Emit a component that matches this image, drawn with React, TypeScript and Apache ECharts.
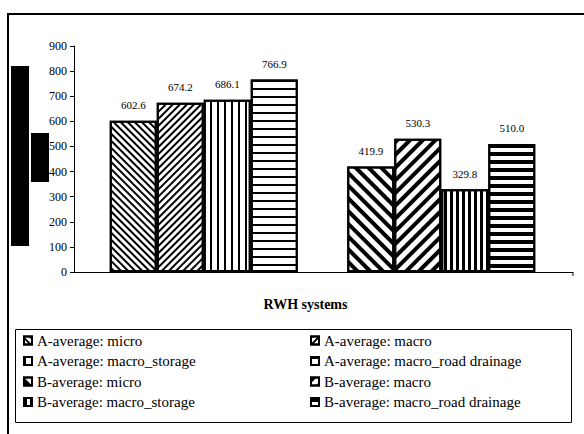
import React, { useEffect, useRef } from "react";
import * as echarts from "echarts";

// Site groups and the RWH system types compared in each group
const groups = ["A-average", "B-average"];
const systems = ["micro", "macro", "macro_storage", "macro_road drainage"];

// Mean values per system type for each group
const aValues = [602.6, 674.2, 686.1, 766.9];
const bValues = [419.9, 530.3, 329.8, 510.0];

// Value axis range
const yMin = 0;
const yMax = 900;
const yStep = 100;

const axisTitle = "RWH systems";

const serif = "Liberation Serif, Times New Roman, serif";

// Hatch fills: fine hatching for group A, bold hatching for group B
const diag = (line: number, gap: number, rot: number) => ({
  symbol: "rect",
  symbolSize: 1,
  color: "#000",
  dashArrayX: [1, 0],
  dashArrayY: [line, gap],
  rotation: rot,
});
const vert = (line: number, gap: number) => ({
  symbol: "rect",
  symbolSize: 1,
  color: "#000",
  dashArrayX: [line, gap],
  dashArrayY: [1, 0],
  rotation: 0,
});
const horiz = (line: number, gap: number) => ({
  symbol: "rect",
  symbolSize: 1,
  color: "#000",
  dashArrayX: [1, 0],
  dashArrayY: [line, gap],
  rotation: 0,
});

const hatches = [
  [diag(1.3, 2.2, Math.PI / 4), diag(1.3, 2.2, -Math.PI / 4), vert(2, 5), horiz(2, 5.5)],
  [diag(4, 4.5, Math.PI / 4), diag(4, 4.5, -Math.PI / 4), vert(2.7, 2.6), horiz(3.5, 3.5)],
];

export default function App() {
  const ref = useRef<HTMLDivElement>(null);

  useEffect(() => {
    if (!ref.current) return;
    const chart = echarts.init(ref.current, undefined, { renderer: "svg" });

    const series: any[] = [];
    groups.forEach((g, gi) => {
      const vals = gi === 0 ? aValues : bValues;
      systems.forEach((s, si) => {
        series.push({
          name: `${g}: ${s}`,
          type: "bar",
          stack: s,
          barWidth: 47,
          barGap: "0%",
          data: groups.map((_, k) => (k === gi ? vals[si] : "-")),
          itemStyle: {
            color: "#fff",
            borderColor: "#000",
            borderWidth: 2,
            decal: hatches[gi][si],
          },
          label: {
            show: true,
            position: "top",
            distance: 10,
            color: "#000",
            fontFamily: serif,
            fontSize: 11,
            formatter: (p: any) => Number(p.value).toFixed(1),
          },
        });
      });
    });

    const names = series.map((s) => s.name);
    const leftCol = names.filter((_, i) => i % 2 === 0);
    const rightCol = names.filter((_, i) => i % 2 === 1);

    const legendBase = {
      orient: "vertical",
      top: 333,
      padding: 0,
      icon: "rect",
      itemWidth: 8,
      itemHeight: 8,
      itemGap: 5.5,
      selectedMode: false,
      textStyle: { fontFamily: serif, fontSize: 15, color: "#000", lineHeight: 15 },
    };

    chart.setOption({
      animation: false,
      backgroundColor: "#fff",
      grid: { left: 85, right: 24, top: 46, bottom: 162, containLabel: false },
      xAxis: {
        type: "category",
        data: groups,
        axisLine: { show: false },
        axisTick: { show: false },
        axisLabel: { show: false },
        name: axisTitle,
        nameLocation: "middle",
        nameGap: 25,
        nameTextStyle: {
          fontFamily: serif,
          fontSize: 14,
          fontWeight: "bold",
          color: "#000",
          padding: [0, 34, 0, 0],
        },
      },
      yAxis: {
        type: "value",
        min: yMin,
        max: yMax,
        interval: yStep,
        offset: 11,
        axisLine: { show: true, lineStyle: { color: "#000", width: 1 } },
        axisTick: { show: true, length: 4, lineStyle: { color: "#000" } },
        axisLabel: { color: "#000", fontFamily: serif, fontSize: 12, margin: 7 },
        splitLine: { show: false },
      },
      legend: [
        { ...legendBase, data: leftCol, left: 23 },
        { ...legendBase, data: rightCol, left: 310 },
      ],
      series,
      graphic: [
        {
          type: "rect",
          shape: { x: 8, y: 14, width: 620, height: 460 },
          style: { fill: "none", stroke: "#000", lineWidth: 2 },
          z: 10,
        },
        {
          type: "line",
          shape: { x1: 74, y1: 272.5, x2: 573, y2: 272.5 },
          style: { stroke: "#000", lineWidth: 1 },
          z: 1,
        },
        {
          type: "line",
          shape: { x1: 573, y1: 272, x2: 573, y2: 276 },
          style: { stroke: "#000", lineWidth: 1 },
          z: 1,
        },
        {
          type: "rect",
          shape: { x: 15.5, y: 329.5, width: 556, height: 93 },
          style: { fill: "none", stroke: "#000", lineWidth: 1 },
          z: 10,
        },
        {
          type: "rect",
          shape: { x: 11, y: 66, width: 18, height: 180 },
          style: { fill: "#000" },
          z: 20,
        },
        {
          type: "rect",
          shape: { x: 31, y: 133, width: 18, height: 49 },
          style: { fill: "#000" },
          z: 20,
        },
      ],
    });

    return () => chart.dispose();
  }, []);

  return (
    <div
      ref={ref}
      style={{ position: "absolute", left: 0, top: 0, width: 584, height: 434 }}
    />
  );
}
